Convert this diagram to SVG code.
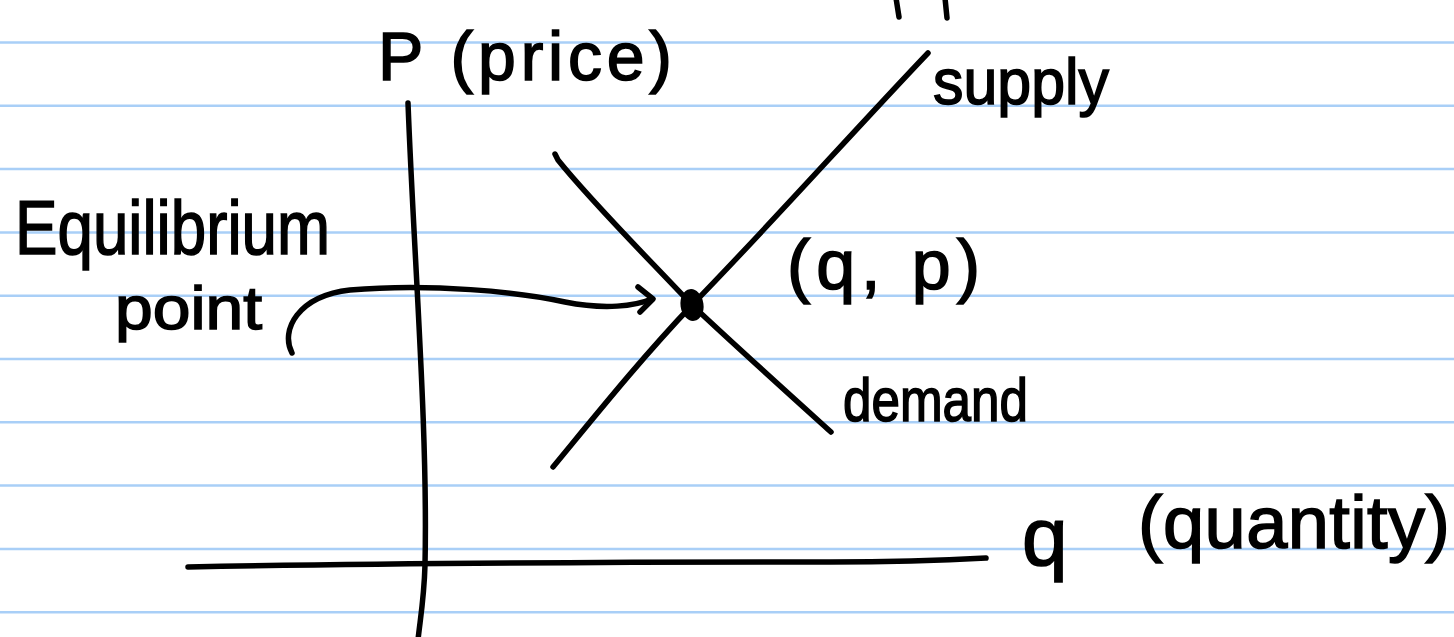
<svg xmlns="http://www.w3.org/2000/svg" width="1454" height="637" viewBox="0 0 1454 637">
<style>
.rule{stroke:#a9cff7;stroke-width:2.5;}
.ink{fill:none;stroke:#000;stroke-width:5.5;stroke-linecap:round;stroke-linejoin:round;}
.lbl{font-family:"Liberation Sans","DejaVu Sans",sans-serif;fill:#000;stroke:#000;stroke-width:1.6;}
</style>
<rect width="1454" height="637" fill="#fff"/>
<g id="paper">
<line class="rule" x1="0" y1="42.5" x2="1454" y2="42.5"/>
<line class="rule" x1="0" y1="105.8" x2="1454" y2="105.8"/>
<line class="rule" x1="0" y1="169.1" x2="1454" y2="169.1"/>
<line class="rule" x1="0" y1="232.4" x2="1454" y2="232.4"/>
<line class="rule" x1="0" y1="295.7" x2="1454" y2="295.7"/>
<line class="rule" x1="0" y1="359" x2="1454" y2="359"/>
<line class="rule" x1="0" y1="422.3" x2="1454" y2="422.3"/>
<line class="rule" x1="0" y1="485.6" x2="1454" y2="485.6"/>
<line class="rule" x1="0" y1="548.9" x2="1454" y2="548.9"/>
<line class="rule" x1="0" y1="612.2" x2="1454" y2="612.2"/>
</g>
<g id="top-fragments">
<path class="ink" d="M896,-2 L899,17"/>
<path class="ink" d="M945,-2 L947,18"/>
</g>
<g id="price-axis">
<path class="ink" d="M408,103 C414,260 428,430 425,565 C424,600 420,620 418,640"/>
<text class="lbl" x="378" y="80" font-size="68" textLength="294" lengthAdjust="spacing">P (price)</text>
</g>
<g id="quantity-axis">
<path class="ink" d="M188,567 C400,563 700,562 830,562 C900,562 950,560 986,558"/>
<text class="lbl" x="1022" y="565" font-size="82">q</text>
<text class="lbl" x="1138" y="548" font-size="74" textLength="312" lengthAdjust="spacing">(quantity)</text>
</g>
<g id="supply">
<path class="ink" d="M553,467 C600,410 640,360 692,305 C770,225 850,135 928,53"/>
<text class="lbl" x="933" y="104" font-size="64" textLength="176" lengthAdjust="spacingAndGlyphs">supply</text>
</g>
<g id="demand">
<path class="ink" d="M555,154 L558,160 C590,200 640,250 692,305 C740,350 790,395 831,432"/>
<text class="lbl" x="843" y="421" font-size="62" textLength="185" lengthAdjust="spacingAndGlyphs">demand</text>
</g>
<g id="equilibrium">
<ellipse cx="692" cy="305" rx="11.5" ry="16" transform="rotate(-8 692 305)" fill="#000"/>
<text class="lbl" x="787" y="289" font-size="70" textLength="193" lengthAdjust="spacing">(q, p)</text>
</g>
<g id="equilibrium-label">
<text class="lbl" x="15" y="254" font-size="76" textLength="315" lengthAdjust="spacingAndGlyphs">Equilibrium</text>
<text class="lbl" x="115" y="329" font-size="62" textLength="147" lengthAdjust="spacingAndGlyphs">point</text>
</g>
<g id="connectors">
<path class="ink" d="M292,353 C280,330 298,296 350,290 C430,283 520,292 565,302 C605,310 635,306 652,299"/>
<path class="ink" d="M638,287 L653,299 L640,312"/>
</g>
</svg>
